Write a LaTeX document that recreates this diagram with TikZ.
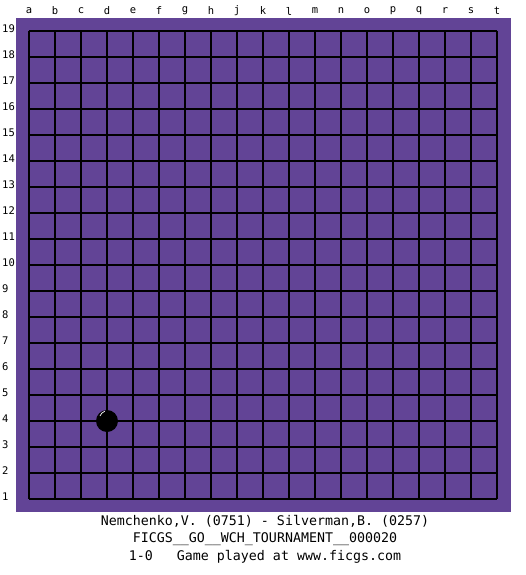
\documentclass[tikz,border=0pt]{standalone}
\usepackage{fontspec}
\setmonofont{DejaVu Sans Mono}
\definecolor{board}{RGB}{98,68,150}
\tikzset{
  coordlabel/.style={font=\ttfamily\fontsize{10.5}{10.5}\selectfont, inner sep=0pt},
  infotext/.style={font=\ttfamily\fontsize{13.3}{14}\selectfont, inner sep=0pt},
  gridline/.style={black, line width=1.1pt},
}
\begin{document}
\begin{tikzpicture}[x=1pt,y=-1pt]
\useasboundingbox (0,0) rectangle (525,575);
\fill[white] (0,0) rectangle (525,575);
\fill[board] (16,18) rectangle (511,512);
% grid
\foreach \i in {0,...,18}{
  \draw[gridline] (29+26*\i,31) -- (29+26*\i,499);
  \draw[gridline] (29,31+26*\i) -- (497,31+26*\i);
}
% column letters
\foreach \l [count=\i from 0] in {a,b,c,d,e,f,g,h,j,k,l,m,n,o,p,q,r,s,t}{
  \node[coordlabel] (col\l) at (29+26*\i,11) {\l};
}
% row numbers
\foreach \n in {1,...,19}{
  \node[coordlabel, anchor=west] (row\n) at (2,499-26*\n+26-2) {\n};
}
% stone at d4
\fill[black] (107,421) circle[radius=11];
\draw[white, line width=0.7pt] (100,416) arc[start angle=200, end angle=250, radius=8];
% info text
\node[infotext] (players) at (265,521) {Nemchenko,V. (0751) - Silverman,B. (0257)};
\node[infotext] (event) at (265,539) {FICGS\_\_GO\_\_WCH\_TOURNAMENT\_\_000020};
\node[infotext] (result) at (265,557) {1-0\ \ \ Game played at www.ficgs.com};
\end{tikzpicture}
\end{document}
